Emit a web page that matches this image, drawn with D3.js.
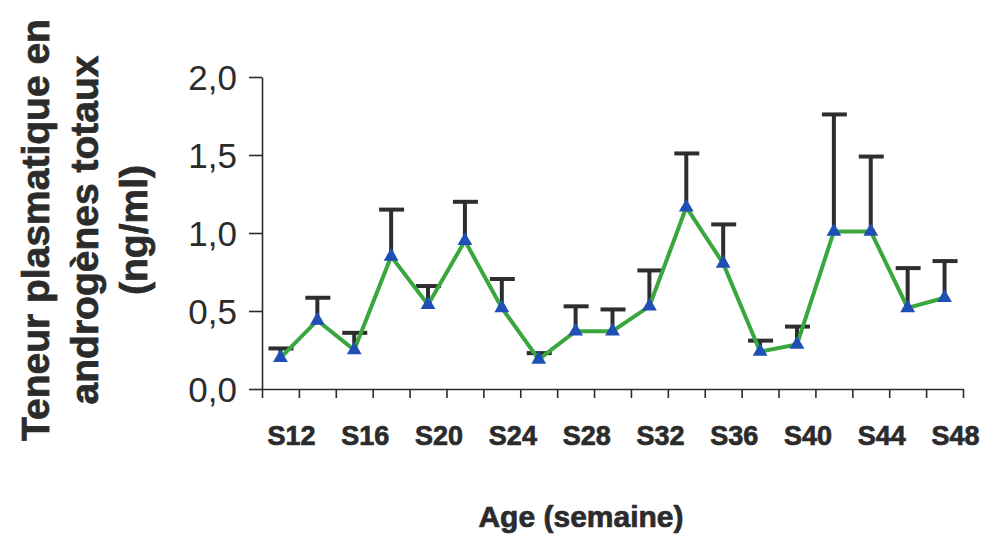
<!DOCTYPE html>
<html>
<head>
<meta charset="utf-8">
<script src="https://cdn.jsdelivr.net/npm/d3@7"></script>
<style>
  body{margin:0;background:#fff;}
  text{font-family:"Liberation Sans",Arial,sans-serif;fill:#2b2b2b;}
  .gras{stroke:#2b2b2b;stroke-width:0.7px;}
</style>
</head>
<body>
<script>
// semaines (une valeur toutes les 2 semaines)
const semaines=["S12","S14","S16","S18","S20","S22","S24","S26","S28","S30","S32","S34","S36","S38","S40","S42","S44","S46","S48"]
// teneur moyenne (ng/ml)
const moyennes=[0.20,0.44,0.25,0.85,0.54,0.95,0.52,0.19,0.37,0.37,0.53,1.165,0.805,0.24,0.285,1.01,1.01,0.52,0.585]
// haut de la barre d'erreur
const hautErreur=[0.26,0.585,0.36,1.15,0.66,1.20,0.705,0.23,0.53,0.51,0.76,1.51,1.055,0.31,0.40,1.76,1.49,0.775,0.82]
// etiquettes affichees sur l'axe x
const etiquettes=["S12","S16","S20","S24","S28","S32","S36","S40","S44","S48"]
const ticksY=[0,0.5,1,1.5,2]

const width=997
const height=535
const gauche=262, droite=963, haut=77, bas=389

const svg=d3.select("body").append("svg")
  .attr("width",width)
  .attr("height",height)

const x=d3.scaleBand().domain(semaines).range([gauche,droite]).padding(0)
const y=d3.scaleLinear().domain([0,2]).range([bas,haut])

const loc=d3.formatLocale({decimal:",",thousands:" ",grouping:[3],currency:["","€"]})
const fmt=loc.format(".1f")

// axe Y
const yAxis=d3.axisLeft(y).tickValues(ticksY).tickFormat(fmt).tickSize(13).tickPadding(12).tickSizeOuter(0)
const gy=svg.append("g").attr("transform",`translate(${gauche},0)`).call(yAxis)
gy.selectAll("text").style("font-size","35px").attr("dy","0.36em")
gy.selectAll("line,path").attr("stroke","#2b2b2b").attr("stroke-width",1.6)

// axe X : graduations entre les categories
const xTicks=d3.scaleLinear().domain([0,semaines.length]).range([gauche,droite])
const xAxis=d3.axisBottom(xTicks).ticks(semaines.length).tickFormat("").tickSize(9).tickSizeOuter(0)
const gx=svg.append("g").attr("transform",`translate(0,${bas})`).call(xAxis)
gx.selectAll("line,path").attr("stroke","#2b2b2b").attr("stroke-width",1.6)

svg.append("g").selectAll("text")
  .data(etiquettes)
  .enter()
  .append("text")
  .attr("class","gras")
  .attr("x",d=>x(d)+x.bandwidth()*0.8)
  .attr("y",445)
  .attr("text-anchor","middle")
  .style("font-size","27px")
  .style("font-weight","bold")
  .text(d=>d)

// barres d'erreur (vers le haut seulement)
const donnees=semaines.map((s,i)=>({s:s,v:moyennes[i],e:hautErreur[i]}))
const cx=d=>x(d.s)+x.bandwidth()/2

const err=svg.append("g")
err.selectAll("line.tige").data(donnees).enter().append("line")
  .attr("class","tige")
  .attr("x1",cx).attr("x2",cx)
  .attr("y1",d=>y(d.v)).attr("y2",d=>y(d.e))
  .attr("stroke","#2e2e2e").attr("stroke-width",4)
err.selectAll("line.cap").data(donnees).enter().append("line")
  .attr("class","cap")
  .attr("x1",d=>cx(d)-12).attr("x2",d=>cx(d)+13)
  .attr("y1",d=>y(d.e)).attr("y2",d=>y(d.e))
  .attr("stroke","#2e2e2e").attr("stroke-width",4)

// courbe verte
const ligne=d3.line().x(cx).y(d=>y(d.v))
svg.append("path")
  .datum(donnees)
  .attr("d",ligne)
  .attr("fill","none")
  .attr("stroke","#3aa63e")
  .attr("stroke-width",4)

// marqueurs triangle bleus
svg.append("g").selectAll("path")
  .data(donnees)
  .enter()
  .append("path")
  .attr("d",d3.symbol().type(d3.symbolTriangle).size(95))
  .attr("transform",d=>`translate(${cx(d)},${y(d.v)})`)
  .attr("fill","#1f4fb4")

// titres des axes
const titreY=svg.append("text")
  .attr("class","gras")
  .attr("transform","translate(0,230) rotate(-90)")
  .attr("text-anchor","middle")
  .style("font-size","39px")
  .style("font-weight","bold")
titreY.append("tspan").attr("x",0).attr("y",49).text("Teneur plasmatique en")
titreY.append("tspan").attr("x",0).attr("y",98).text("androgènes totaux")
titreY.append("tspan").attr("x",0).attr("y",147).text("(ng/ml)")

svg.append("text")
  .attr("class","gras")
  .attr("x",581)
  .attr("y",527)
  .attr("text-anchor","middle")
  .style("font-size","30px")
  .style("font-weight","bold")
  .text("Age (semaine)")
</script>
</body>
</html>
